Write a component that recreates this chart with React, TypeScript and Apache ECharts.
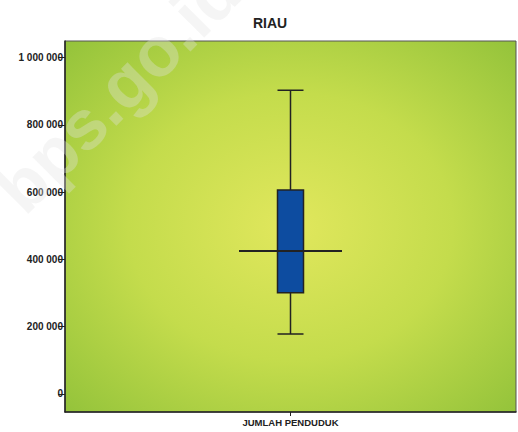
import React, { useEffect, useRef } from "react";
import * as echarts from "echarts";

const categories = ["JUMLAH PENDUDUK"];
// [min, Q1, median, Q3, max]
const boxValues = [[178000, 301000, 425000, 606000, 903000]];
const medianValues = [425000];
const yTicks = [0, 200000, 400000, 600000, 800000, 1000000];
const titleText = "RIAU";
const watermarkText = "bps.go.id";

const FONT = "'Liberation Sans', Arial, sans-serif";

function fmt(v: number): string {
  return String(Math.round(v)).replace(/\B(?=(\d{3})+(?!\d))/g, " ");
}

export default function App() {
  const ref = useRef<HTMLDivElement>(null);
  useEffect(() => {
    document.body.style.margin = "0";
    if (!ref.current) return;
    const chart = echarts.init(ref.current, null, { renderer: "svg" });
    chart.setOption({
      animation: false,
      backgroundColor: "#ffffff",
      textStyle: { fontFamily: FONT },
      title: {
        text: titleText,
        left: 248,
        top: 11,
        textStyle: { fontSize: 14, fontWeight: "bold", color: "#222", fontFamily: FONT },
      },
      grid: {
        left: 65,
        right: 2,
        top: 41,
        bottom: 20,
        show: true,
        borderColor: "#555",
        borderWidth: 1,
        backgroundColor: new echarts.graphic.RadialGradient(0.5, 0.5, 0.72, [
          { offset: 0, color: "#e1e75d" },
          { offset: 0.5, color: "#c4dc4c" },
          { offset: 1, color: "#92c23a" },
        ]),
      },
      xAxis: {
        type: "category",
        data: categories,
        axisLine: { show: true, onZero: false, lineStyle: { color: "#222", width: 1.5 } },
        axisTick: { show: true, alignWithLabel: true, length: 4, lineStyle: { color: "#222" } },
        axisLabel: { fontSize: 9.5, fontWeight: "bold", color: "#222", margin: 5, fontFamily: FONT },
        splitLine: { show: false },
      },
      yAxis: {
        type: "value",
        min: -53500,
        max: 1049000,
        axisLine: { show: true, lineStyle: { color: "#222", width: 1.5 } },
        axisTick: { show: true, length: 7, customValues: yTicks, lineStyle: { color: "#222" } },
        axisLabel: {
          customValues: yTicks,
          fontSize: 10,
          fontWeight: "bold",
          color: "#222",
          margin: 2,
          fontFamily: FONT,
          formatter: (v: number) => fmt(v),
        },
        splitLine: { show: false },
      },
      graphic: [
        {
          type: "text",
          x: 8,
          y: 200,
          rotation: Math.PI / 4,
          z: 100,
          silent: true,
          style: {
            text: watermarkText,
            font: "bold 70px 'Liberation Sans', Arial, sans-serif",
            fill: "rgba(225,225,225,0.35)",
            textAlign: "left",
            textVerticalAlign: "middle",
          },
        },
      ],
      series: [
        {
          type: "boxplot",
          data: boxValues,
          boxWidth: [26, 26],
          itemStyle: { color: "#0d4ca0", borderColor: "#222", borderWidth: 1.5 },
          z: 3,
        },
        {
          type: "scatter",
          data: medianValues.map((v, i) => [categories[i], v]),
          symbol: "rect",
          symbolSize: [103, 2],
          itemStyle: { color: "#222", opacity: 1 },
          z: 4,
        },
      ],
    });
    return () => chart.dispose();
  }, []);
  return <div ref={ref} style={{ width: 518, height: 432 }} />;
}
